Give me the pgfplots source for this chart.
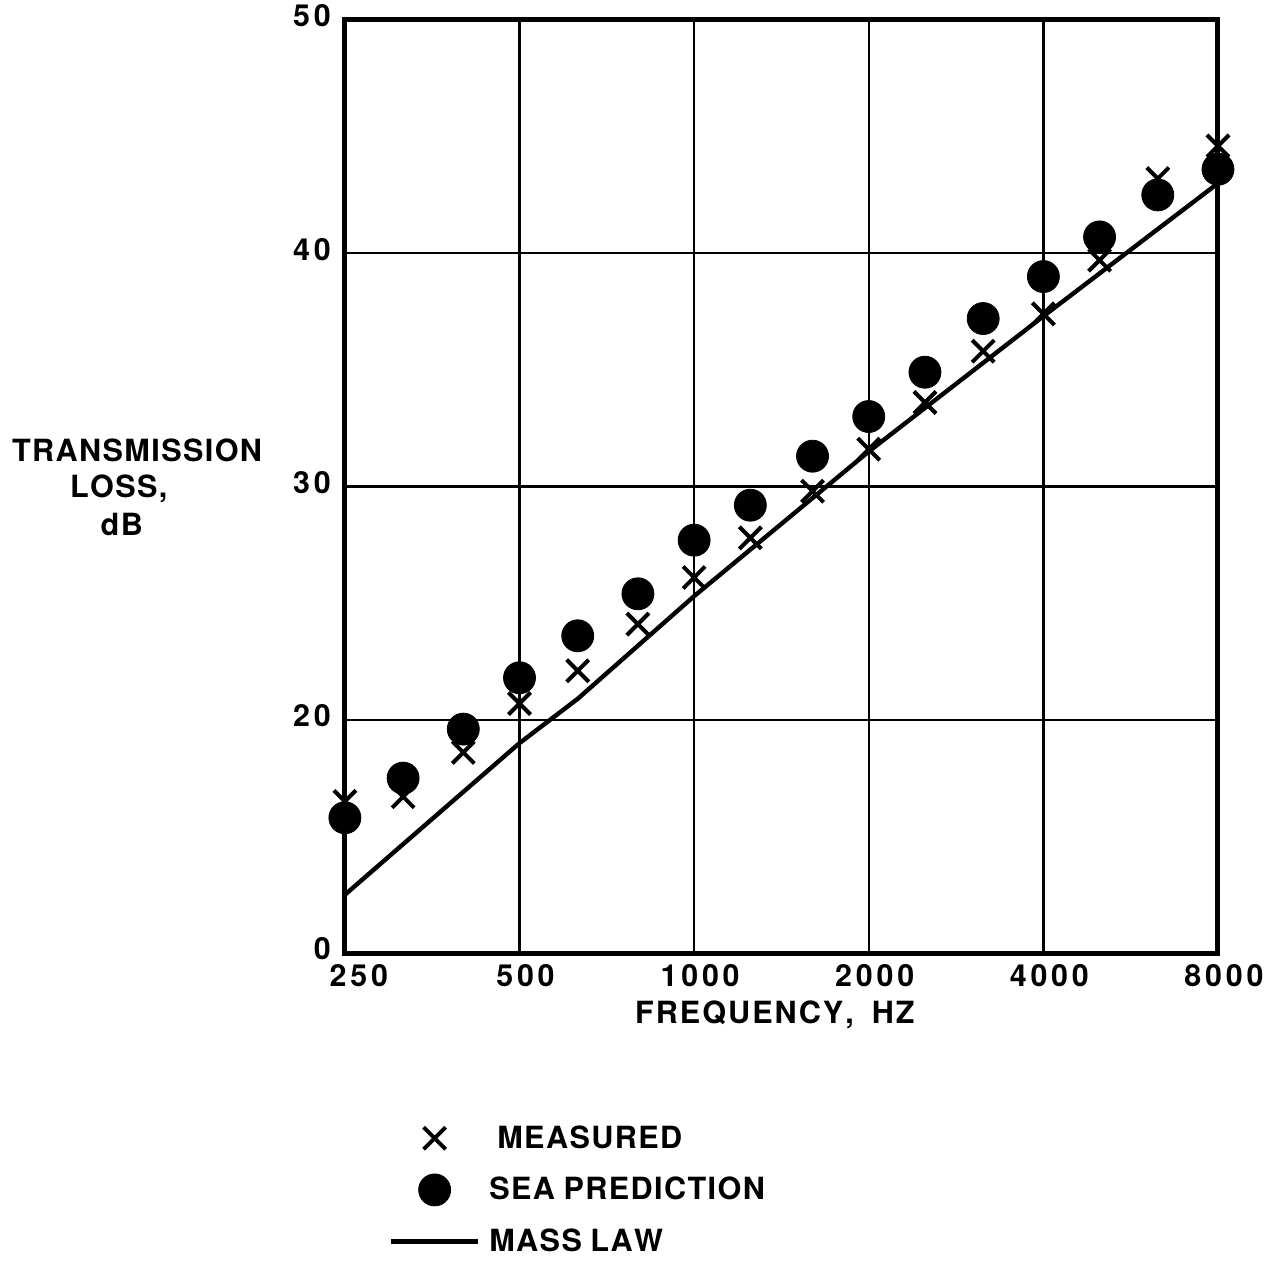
\documentclass[border=0pt]{standalone}
\usepackage{pgfplots}
\pgfplotsset{compat=1.18}
\usepackage{fontspec}
\setmainfont{TeX Gyre Heros}
\newcommand\LF{\bfseries\fontsize{15.3}{19}\selectfont}
\newcommand\TF{\bfseries\fontsize{15.2}{18}\selectfont}
\def\lskern{0.7pt}
\def\ls#1{\lsloop#1\relax}
\def\lsloop#1{\ifx#1\relax\unkern\else#1\kern\lskern\relax\expandafter\lsloop\fi}
\newcommand\lt[1]{{\def\lskern{1.9pt}\ls{#1}}}
\begin{document}
\begin{tikzpicture}
\begin{axis}[
  scale only axis, width=436.5pt, height=466.5pt,
  xmode=log, xmin=250, xmax=8000, ymin=10, ymax=50,
  xtick={250,500,1000,2000,4000,8000},
  xticklabels={\hspace*{8pt}\lt{250},\lt{500},\lt{1000},\lt{2000},\lt{4000},\lt{8000}},
  minor tick num=0,
  ytick={10,20,30,40,50}, yticklabels={\lt{0},\lt{20},\lt{30},\lt{40},\lt{50}},
  tick style={draw=none},
  grid=major, grid style={line width=1.2pt, black},
  axis line style={line width=2.5pt},
  ticklabel style={font=\TF},
  xticklabel style={xshift=3pt, yshift=-2pt},
  yticklabel style={yshift=2pt, xshift=-3.5pt},
  clip=false,
  legend style={at={(rel axis cs:0.05,-0.18)}, anchor=north west, draw=none, fill=none, font=\LF, row sep=9pt, inner sep=0pt,
    /tikz/every odd column/.append style={column sep=2.5pt}},
  legend cell align=left,
  legend image code/.code={\draw[mark repeat=2,mark phase=2,#1] plot coordinates {(0pt,0pt)(21.75pt,0pt)(43.5pt,0pt)};},
]
\addplot[only marks, mark=x, mark size=7.8pt, line width=2pt, black] coordinates {
(250,16.5)(315,16.7)(400,18.6)(500,20.7)(630,22.1)(800,24.1)(1000,26.1)(1250,27.8)
(1600,29.8)(2000,31.6)(2500,33.6)(3150,35.8)(4000,37.4)(5000,39.7)(6300,43.2)(8000,44.6)};
\addlegendentry{\hspace*{4pt}\ls{MEASURED}}
\addplot[only marks, mark=*, mark size=8pt, black, fill=black] coordinates {
(250,15.8)(315,17.5)(400,19.6)(500,21.8)(630,23.6)(800,25.4)(1000,27.7)(1250,29.2)
(1600,31.3)(2000,33.0)(2500,34.9)(3150,37.2)(4000,39.0)(5000,40.7)(6300,42.5)(8000,43.6)};
\addlegendentry{\ls{SEA}\ \ls{PREDICTION}}
\addplot[no marks, line width=2.2pt, black] coordinates {
(250,12.5)(500,19.0)(630,20.9)(1000,25.3)(2000,31.5)(4000,37.3)(8000,43.0)};
\addlegendentry{\ls{MASS}\ \ls{LAW}}
\node[anchor=base, font=\LF] at (rel axis cs:0.4925,-0.075) {{\def\lskern{1pt}\ls{FREQUENCY,}\hspace{9pt}\ls{HZ}}};
\node[anchor=base, font=\LF] at (rel axis cs:-0.238,0.5263) {\ls{TRANSMISSION}};
\node[anchor=base, font=\LF] at (rel axis cs:-0.259,0.4877) {\ls{LOSS,}};
\node[anchor=base, font=\LF] at (rel axis cs:-0.2555,0.448) {\ls{dB}};
\coordinate (BBa) at (rel axis cs:-0.395,-0.333);
\coordinate (BBb) at (rel axis cs:1.0745,1.0214);
\end{axis}
\pgfresetboundingbox
\path[use as bounding box] (BBa) rectangle (BBb);
\end{tikzpicture}
\end{document}
